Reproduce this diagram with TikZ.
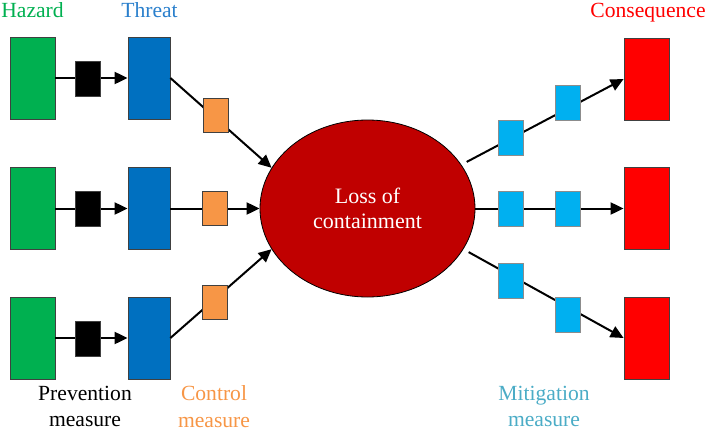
\documentclass[tikz,border=0pt]{standalone}
\usepackage{fontspec}
\setmainfont{Liberation Serif}
\newfontfamily\tnr{Liberation Serif}
\usetikzlibrary{arrows.meta,shapes.geometric}
\definecolor{hazgreen}{HTML}{00B050}
\definecolor{thrblue}{HTML}{0070C0}
\definecolor{conred}{HTML}{FF0000}
\definecolor{locred}{HTML}{C00000}
\definecolor{ctlorange}{HTML}{F79646}
\definecolor{mitcyan}{HTML}{00B0F0}
\definecolor{mitlabel}{HTML}{4BACC6}
\definecolor{thrlabel}{HTML}{2A7FCC}
\begin{document}
\begin{tikzpicture}[x=1pt,y=-1pt,
  tall/.style={draw=black!75, line width=0.8pt, minimum width=45pt, minimum height=82pt, inner sep=0pt},
  smallbox/.style={draw=black!75, line width=0.8pt, minimum width=25pt, minimum height=35pt, inner sep=0pt},
  conn/.style={line width=2pt, -{Triangle[length=13pt,width=12pt]}},
  lbl/.style={font=\tnr\fontsize{21.6}{26.5}\selectfont, align=center, inner sep=0pt}]
\useasboundingbox (0,0) rectangle (705,434);

% hazards
\node[tall, fill=hazgreen] (h1) at (32.5,78) {};
\node[tall, fill=hazgreen] (h2) at (32.5,208.5) {};
\node[tall, fill=hazgreen] (h3) at (32.5,338) {};
% threats
\node[tall, minimum width=42pt, fill=thrblue] (t1) at (149,78) {};
\node[tall, minimum width=42pt, fill=thrblue] (t2) at (149,208.5) {};
\node[tall, minimum width=42pt, fill=thrblue] (t3) at (149,338) {};
% consequences
\node[tall, fill=conred] (c1) at (646.5,79) {};
\node[tall, fill=conred] (c2) at (646.5,208.5) {};
\node[tall, fill=conred] (c3) at (646.5,338) {};
% loss of containment
\node[ellipse, draw=black, line width=0.8pt, fill=locred, minimum width=215pt, minimum height=177pt,
      inner sep=0pt, text=white, font=\tnr\fontsize{22}{25}\selectfont, align=center] (loc) at (367.5,208.5) {Loss of\\containment};

% connectors
\draw[conn] (h1) -- (t1);
\draw[conn] (h2) -- (t2);
\draw[conn] (h3) -- (t3);
\draw[conn] (t1.east) -- (loc.157);
\draw[conn] (t2.east) -- (loc.west);
\draw[conn] (t3.east) -- (loc.203);
\draw[conn, shorten <=6pt] (loc.25) -- (c1.west);
\draw[conn] (loc.east) -- (c2.west);
\draw[conn, shorten <=6pt] (loc.-23) -- (c3.west);

% prevention barriers
\node[smallbox, fill=black] (p1) at (87.5,79) {};
\node[smallbox, fill=black] (p2) at (87.5,208.5) {};
\node[smallbox, fill=black] (p3) at (87.5,338.5) {};
% control barriers
\node[smallbox, minimum height=34pt, fill=ctlorange] (k1) at (215.5,115) {};
\node[smallbox, minimum height=34pt, fill=ctlorange] (k2) at (214.5,208.5) {};
\node[smallbox, minimum height=34pt, fill=ctlorange] (k3) at (214.5,302.5) {};
% mitigation barriers
\node[smallbox, draw=black!45, fill=mitcyan] (m1) at (510.5,137.5) {};
\node[smallbox, draw=black!45, fill=mitcyan] (m2) at (567.5,102.5) {};
\node[smallbox, draw=black!45, fill=mitcyan] (m3) at (510.5,208.5) {};
\node[smallbox, draw=black!45, fill=mitcyan] (m4) at (567.5,208.5) {};
\node[smallbox, draw=black!45, fill=mitcyan] (m5) at (510.5,280.5) {};
\node[smallbox, draw=black!45, fill=mitcyan] (m6) at (567.5,314.5) {};

% labels
\node[lbl, text=hazgreen, anchor=base] (lh) at (32.5,17) {Hazard};
\node[lbl, text=thrlabel, anchor=base] (lt) at (149.5,17) {Threat};
\node[lbl, text=conred, anchor=base] (lc) at (648,17) {Consequence};
\node[lbl, text=black] (lp) at (85,406.5) {Prevention\\measure};
\node[lbl, text=ctlorange] (lk) at (214,406.5) {Control\\measure};
\node[lbl, text=mitlabel] (lm) at (544,406.5) {Mitigation\\measure};
\end{tikzpicture}
\end{document}
